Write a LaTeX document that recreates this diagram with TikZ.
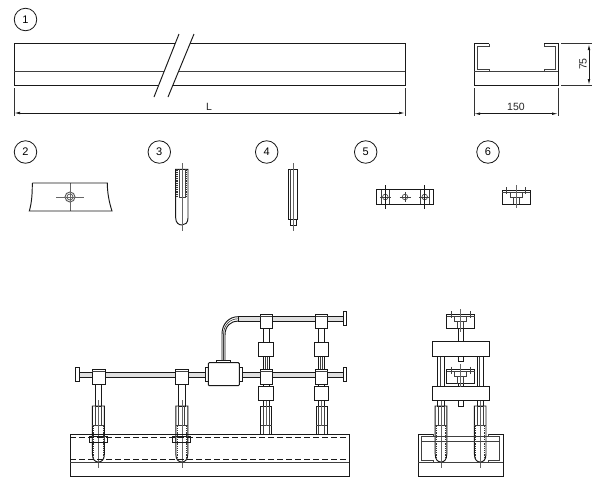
\documentclass[tikz,border=0pt]{standalone}
\usepackage{fontspec}
\setmainfont{Liberation Sans}
\usetikzlibrary{arrows.meta}
\tikzset{
 ln/.style={line width=0.95pt,draw=black!90},
 hl/.style={line width=0.65pt,draw=black!75},
 cl/.style={line width=0.45pt,draw=black!60},
 thr/.style={line width=0.9pt,draw=black!80,dash pattern=on 1.3pt off 0.9pt},
 hid/.style={line width=0.9pt,draw=black!90,dash pattern=on 6pt off 3pt},
 dimen/.style={line width=0.8pt,draw=black!90,{Latex[length=6pt,width=2.6pt]}-{Latex[length=6pt,width=2.6pt]}},
 ext/.style={line width=0.65pt,draw=black!80},
 num/.style={circle,draw=black!90,line width=0.8pt,minimum size=22.5pt,inner sep=0pt,font=\fontsize{11}{12}\selectfont},
 lab/.style={inner sep=0pt,font=\fontsize{10.5}{11}\selectfont,text=black!85},
 part/.style={ln,fill=white}
}
% holder block (item 6): centre x, top y
\newcommand\Holder[2]{\begin{scope}[shift={(#1,#2)}]
 \draw[part] (-14,0) rectangle (14,14.3);
 \draw[hl] (-14,2.4) -- (14,2.4);
 \draw[hl] (-9.5,-2.6) -- (-9.5,4.4) (9.5,-2.6) -- (9.5,4.4);
 \draw[hl] (-6,2.4) -- (-6,7.4) -- (6,7.4) -- (6,2.4);
 \draw[hl] (-3,7.4) -- (-3,14.3) (3,7.4) -- (3,14.3);
 \draw[cl] (0,-5) -- (0,18);
\end{scope}}
% threaded sleeve in the assembly: centre x
\newcommand\Sleeve[2]{\begin{scope}[shift={(#1,0)}]
 \draw[ln] (-#2,406) -- (-#2,454) .. controls (-#2,460) and (-3,462) .. (0,462)
   .. controls (3,462) and (#2,460) .. (#2,454) -- (#2,406) -- cycle;
 \draw[hl] (-#2,425.7) -- (#2,425.7);
 \draw[hl] (-3,406) -- (-3,425.7) (3,406) -- (3,425.7);
 \draw[thr] (-#2+1.4,425.7) -- (-#2+1.4,457) (#2-1.4,425.7) -- (#2-1.4,457);
 \draw[cl] (0,400) -- (0,468);
\end{scope}}
% column with two boxes: centre x
\newcommand\Column[1]{\begin{scope}[shift={(#1,0)}]
 \draw[part] (-3,328) rectangle (3,342);
 \draw[part] (-3,356) rectangle (3,369);
 \draw[hl] (-1,356) -- (-1,369) (1,356) -- (1,369);
 \draw[part] (-3,384) rectangle (3,386.3);
 \draw[part] (-3,400.7) rectangle (3,406);
 \draw[part] (-7.2,342) rectangle (7.2,356);
 \draw[part] (-7.2,386.3) rectangle (7.2,400.7);
 \draw[part] (-5.5,406) rectangle (5.5,434.3);
 \draw[hl] (-5.5,425.7) -- (5.5,425.7);
 \draw[hl] (-3,406) -- (-3,434.3) (3,406) -- (3,434.3);
 \draw[cl] (0,400.7) -- (0,425.7);
 \draw[part] (-6,314) rectangle (6,328);
 \draw[part] (-6,369.3) rectangle (6,384);
 \draw[hl] (-6,316) -- (6,316) (-6,371.3) -- (6,371.3);
\end{scope}}
\begin{document}
\begin{tikzpicture}[x=1pt,y=-1pt]
\useasboundingbox[fill=white] (0,0) rectangle (600,488);
% number circles
\node[num] (n1) at (25.5,19.5) {1};
\node[num] (n2) at (25.5,152) {2};
\node[num] (n3) at (159.3,152) {3};
\node[num] (n4) at (266.7,152) {4};
\node[num] (n5) at (365.7,152) {5};
\node[num] (n6) at (488,152) {6};
% item 1 rail
\draw[ln] (14,43.5) rectangle (405,85.5);
\draw[hl] (14,71.5) -- (405,71.5);
\fill[white] (179,34) -- (194,34) -- (168,97) -- (154,97) -- cycle;
\draw[ln] (179,34) -- (154,97) (194,34) -- (168,97);
\draw[ext] (14,88) -- (14,116) (405,88) -- (405,116);
\draw[dimen] (14,113) -- (405,113);
\node[lab] at (209,107) {L};
% item 1 section
\draw[ln] (489,43.5) -- (474,43.5) -- (474,85.5) -- (558,85.5) -- (558,43.5) -- (544,43.5);
\draw[hl] (489,43.5) -- (489,46) -- (477.7,46) -- (477.7,69) -- (489,69) -- (489,71.3);
\draw[hl] (544,43.5) -- (544,46) -- (555.7,46) -- (555.7,69) -- (544,69) -- (544,71.3);
\draw[hl] (474,71.3) -- (558,71.3);
\draw[ext] (474,88) -- (474,116) (558,88) -- (558,116);
\draw[dimen] (474,113.7) -- (558,113.7);
\node[lab] at (516,107) {150};
\draw[ext] (561,43.5) -- (592,43.5) (561,85.5) -- (592,85.5);
\draw[dimen] (589,44) -- (589,85);
\node[lab,rotate=90] at (583,64) {75};
% item 2
\draw[cl] (56,197) -- (84,197) (70,183) -- (70,211);
\draw[ln] (32.3,183) -- (107.3,183) .. controls (107.3,192) and (109,202) .. (112,211)
  -- (29.3,211) .. controls (32,202) and (32.3,192) .. (32.3,183);
\draw[ln,draw=black!65,fill=white] (70,197) circle (5);
\draw[hl] (70,197) circle (3);
\draw[cl] (66,197) -- (74,197) (70,193) -- (70,201);
% item 3
\draw[ln] (175.7,169.3) -- (175.7,218) .. controls (175.7,223) and (179,225) .. (182,225)
  .. controls (185,225) and (188,223) .. (188,218) -- (188,169.3) -- cycle;
\draw[hl] (179,169.3) -- (179,197.3) -- (185,197.3) -- (185,169.3);
\draw[thr,line width=1.6pt] (177.2,169.3) -- (177.2,197) (186.5,169.3) -- (186.5,197);
\draw[cl] (182,163) -- (182,231);
% item 4
\draw[ln] (288.7,169) rectangle (297.7,219.3);
\draw[hl] (290.6,169) -- (290.6,219.3);
\draw[ln] (290.3,219.3) rectangle (296,225);
\draw[hl] (293,219.3) -- (293,225);
\draw[cl] (293,163) -- (293,231);
% item 5
\draw[ln] (376.7,189.7) rectangle (433,204.3);
\draw[hl] (381,189.7) -- (381,204.3) (389.5,189.7) -- (389.5,204.3)
  (420.5,189.7) -- (420.5,204.3) (429,189.7) -- (429,204.3);
\foreach \hx in {385.3,405,424.7}{
 \draw[hl] (\hx,197) circle (2.8);
 \draw[hl] (\hx-5.5,197) -- (\hx+5.5,197);
}
\draw[ln] (385.3,185) -- (385.3,208.5) (424.7,185) -- (424.7,208.5);
\draw[hl] (405,192) -- (405,202);
% item 6
\Holder{516.3}{190}
% lower assembly: supports first, so the rail's lines cross them
\foreach \sx in {98.4,181.8}{
 \draw[part] (\sx-3.4,384) rectangle (\sx+3.4,406);
 \Sleeve{\sx}{6}
 \draw[ln] (\sx-9,436) rectangle (\sx+9,442);
 \draw[hl] (\sx-6,436) -- (\sx-6,442) (\sx+6,436) -- (\sx+6,442);
}
% rail
\draw[ln] (70.3,434.3) rectangle (349,476);
\draw[hl] (70.3,462.3) -- (349,462.3);
\draw[hid] (70.3,437) -- (349,437) (70.3,459.3) -- (349,459.3);
% rods
\draw[ln,fill=black!12] (78,372) rectangle (205.3,377);
\draw[ln,fill=black!12] (242,372) rectangle (343.3,377);
\draw[ln,fill=black!12] (238,316.7) rectangle (343.3,321);
\draw[part] (75.3,367.3) rectangle (79,381.3);
\draw[part] (343.3,367.3) rectangle (346.7,381.3);
\draw[part] (343.3,311) rectangle (346.7,325);
\draw[part] (92.3,369.3) rectangle (105,384);
\draw[part] (175.7,369.3) rectangle (188,384);
\draw[hl] (92.3,371.3) -- (105,371.3) (175.7,371.3) -- (188,371.3);
% pipe
\draw[ln] (222,360) -- (222,334) .. controls (222,324) and (229,316.7) .. (238,316.7);
\draw[ln] (225,360) -- (225,335) .. controls (225,326) and (231,321) .. (238,321);
\draw[hl] (223.5,360) -- (223.5,334.5) .. controls (223.5,325) and (230,318.8) .. (238,318.8);
% motor
\draw[part] (216.7,360) rectangle (230.7,362.7);
\draw[part] (205.3,367.3) rectangle (208.3,381.3);
\draw[part] (239.3,367.3) rectangle (242,381.3);
\draw[part,rounded corners=1pt] (208.3,362.7) rectangle (239.3,385.7);
% columns
\Column{266}
\Column{321.5}
% side view: sleeves first
\foreach \sx in {441,480.2}{
 \draw[part] (\sx-3.2,356) rectangle (\sx+3.2,386.7);
 \draw[hl] (\sx-1,356) -- (\sx-1,386.7);
 \draw[part] (\sx-3.2,400.7) rectangle (\sx+3.2,406);
 \Sleeve{\sx}{5.8}
}
\draw[ln] (433,434.3) -- (418.3,434.3) -- (418.3,476) -- (503,476) -- (503,434.3) -- (488.3,434.3);
\draw[hl] (433,434.3) -- (433,436.7) -- (421.7,436.7) -- (421.7,460) -- (433,460) -- (433,462.3);
\draw[hl] (488.3,434.3) -- (488.3,436.7) -- (499.3,436.7) -- (499.3,460) -- (488.3,460) -- (488.3,462.3);
\draw[hl] (418.3,462.3) -- (503,462.3);
\draw[hl] (433,436.7) -- (488.3,436.7) (421.7,441.7) -- (499.3,441.7);
\draw[part] (458.3,328) rectangle (463.3,341.7);
\draw[part] (458.3,356) rectangle (463.3,361);
\draw[part] (458.3,383.3) rectangle (463.3,386.7);
\draw[part] (458.3,400.7) rectangle (463.3,406);
\draw[part] (432.7,341.7) rectangle (489,356);
\draw[part] (432.7,386.7) rectangle (489,400.7);
\Holder{460.7}{314}
\Holder{460.7}{369.3}
\end{tikzpicture}
\end{document}
